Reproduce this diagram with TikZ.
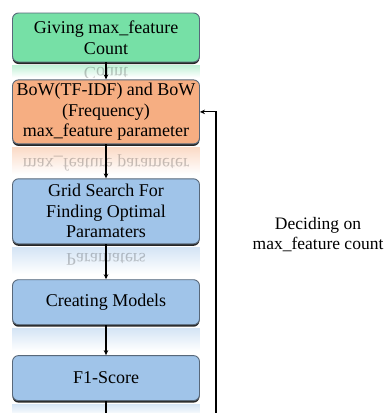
\documentclass[tikz,border=0pt]{standalone}
\usepackage{fontspec}
\setmainfont{Liberation Serif}
\usepackage{tikz}
\usetikzlibrary{arrows.meta, positioning, shadows}
\definecolor{givegreen}{RGB}{118,224,166}
\definecolor{bowpeach}{RGB}{246,174,130}
\definecolor{stepblue}{RGB}{160,196,233}
\definecolor{edgegray}{RGB}{88,104,122}

\begin{document}
\begin{tikzpicture}[
        box/.style={draw=edgegray, line width=0.9pt, rounded corners=6pt, minimum width=187pt,
                    inner sep=2pt, font=\fontsize{18}{20.5}\selectfont, align=center,
                    drop shadow={shadow xshift=0pt, shadow yshift=-2pt, fill=black!85, opacity=1}},
        arrow/.style={-{Stealth[length=5pt, width=4.5pt]}, line width=1.1pt},
        mirror/.style={yscale=-1, opacity=0.22, font=\fontsize{18}{20.5}\selectfont}
      ]
        \useasboundingbox (0,0) rectangle (388pt,-413pt);

        \node[box, fill=givegreen, minimum height=49pt] (give) at (106pt,-37.5pt) {Giving max\_feature\\Count};
        \node[box, fill=bowpeach, minimum height=64pt, below=17pt of give] (bow) {BoW(TF-IDF) and BoW\\(Frequency)\\max\_feature parameter};
        \node[box, fill=stepblue, minimum height=65pt, below=34pt of bow] (grid) {Grid Search For\\Finding Optimal\\Paramaters};
        \node[box, fill=stepblue, minimum height=45pt, below=35pt of grid] (model) {Creating Models};
        \node[box, fill=stepblue, minimum height=45pt, below=30pt of model] (score) {F1-Score};

        % faded reflections under the boxes
        \foreach \n/\c/\h in {give/givegreen/15, bow/bowpeach/30, grid/stepblue/30, model/stepblue/26, score/stepblue/14}
          \shade[top color=\c!45!white, bottom color=white] ([yshift=-3pt]\n.south west) rectangle ([yshift=-\h pt]\n.south east);
        \begin{scope}
          \clip ([yshift=-3pt]give.south west) rectangle ([yshift=-15pt]give.south east);
          \node[mirror] (givemirror) at ([yshift=-11pt]give.south) {Count};
        \end{scope}
        \begin{scope}
          \clip ([yshift=-3pt]bow.south west) rectangle ([yshift=-28pt]bow.south east);
          \node[mirror] (bowmirror) at ([yshift=-19pt]bow.south) {max\_feature parameter};
        \end{scope}
        \begin{scope}
          \clip ([yshift=-3pt]grid.south west) rectangle ([yshift=-28pt]grid.south east);
          \node[mirror] (gridmirror) at ([yshift=-15pt]grid.south) {Paramaters};
        \end{scope}

        \draw[arrow] (give) -- (bow);
        \draw[arrow] (bow)  -- (grid);
        \draw[arrow] (grid) -- (model);
        \draw[arrow] (model) -- (score);
        \draw[arrow] (score.south) -- ++(0,-14pt) -| ([xshift=16pt]bow.east) -- (bow.east);

        \node[font=\fontsize{17.5}{20}\selectfont, align=center] (decide) at (318pt,-235pt) {Deciding on\\max\_feature count};
      \end{tikzpicture}
\end{document}
